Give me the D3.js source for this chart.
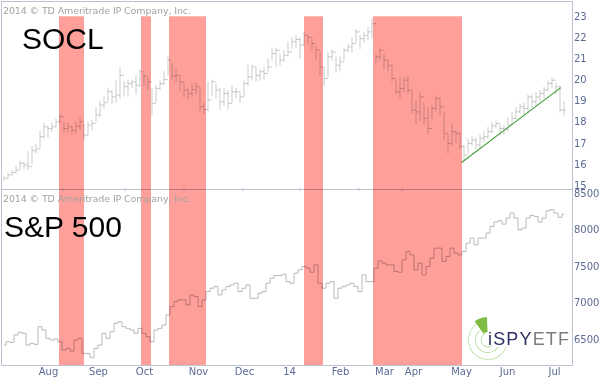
<!DOCTYPE html>
<html>
<head>
<meta charset="utf-8">
<script src="https://cdn.jsdelivr.net/npm/d3@7"></script>
<style>
  html, body { margin: 0; padding: 0; background: #fff; }
  svg { display: block; }
</style>
</head>
<body>
<div id="chart"></div>
<script>
// SOCL bars, one entry per plotted bar
const socClose = [
  15.32,15.48,15.59,15.71,16.03,15.95,15.87,16.63,16.71,17.29,
  17.76,17.68,17.76,18.0,18.24,17.68,17.76,17.6,17.79,18.0,
  17.37,17.84,17.92,18.32,18.79,18.9,19.42,19.18,19.26,20.2,
  19.66,19.81,19.89,19.73,20.37,20.16,19.89,18.87,19.58,19.81,
  20.0,20.92,20.16,20.2,19.89,19.5,19.34,19.53,19.66,18.71,
  18.58,19.03,19.89,19.5,18.95,19.34,18.87,19.42,19.42,19.18,
  19.81,20.13,20.6,20.2,20.37,20.29,20.6,21.23,21.39,20.92,
  21.15,21.31,21.79,21.9,21.63,
  22.1,22.0,21.71,21.4,20.6,20.05,21.08,21.31,20.68,20.84,
  21.39,21.55,21.71,22.26,21.94,22.1,22.26,22.65,21.08,21.39,
  20.92,20.68,20.05,19.42,19.58,19.97,19.5,18.55,18.47,19.18,
  18.16,17.68,18.63,19.1,18.71,17.45,16.97,17.53,17.45,16.82,
  16.42,16.97,17.13,16.9,17.21,17.29,17.53,17.8,17.92,17.68,
  17.64,17.84,18.16,18.47,18.71,18.63,19.18,18.95,19.18,19.34,
  19.5,19.81,19.97,19.66,18.55,18.55
];
const socHigh = [
  15.45,15.6,15.7,15.9,16.15,16.1,16.6,16.85,16.95,17.6,
  17.95,17.8,17.95,18.15,18.4,18.0,17.95,17.8,18.0,18.2,
  17.9,18.0,18.1,18.7,19.0,19.2,19.6,19.5,20.0,20.6,
  19.9,20.0,20.0,20.2,20.5,20.3,20.1,19.6,19.75,19.95,
  20.4,21.1,20.8,20.5,20.2,19.85,19.6,19.8,19.85,19.6,
  18.9,19.9,20.0,19.8,19.6,19.6,19.5,19.7,19.6,19.4,
  20.0,20.7,20.7,20.6,20.5,20.6,21.0,21.5,21.5,21.2,
  21.4,21.8,22.0,22.1,22.0,
  22.25,22.1,21.95,21.6,21.3,20.6,21.3,21.45,21.1,21.1,
  21.5,21.7,22.0,22.4,22.1,22.25,22.5,22.9,21.2,21.5,
  21.2,20.95,20.7,20.0,20.1,20.1,20.2,19.5,19.0,19.4,
  18.9,18.7,18.8,19.25,19.15,18.5,17.4,17.9,17.6,17.5,
  16.9,17.2,17.3,17.25,17.4,17.55,17.75,18.0,18.05,17.9,
  17.85,18.2,18.45,18.7,18.85,18.9,19.3,19.3,19.4,19.5,
  19.65,19.95,20.1,19.85,19.7,18.95
];
const socLow = [
  15.2,15.3,15.45,15.55,15.75,15.75,15.7,16.0,16.5,16.75,
  17.2,17.25,17.5,17.75,17.9,17.45,17.5,17.4,17.45,17.6,
  17.15,17.35,17.6,18.0,18.2,18.6,18.95,18.85,18.9,19.1,
  19.2,19.2,19.6,19.3,19.65,19.7,19.5,18.3,18.9,19.5,
  19.75,20.2,20.0,19.85,19.45,19.15,19.05,19.2,19.3,18.5,
  18.35,18.5,19.2,19.1,18.55,18.75,18.6,18.9,19.1,18.9,
  19.2,19.7,19.95,19.9,19.95,20.0,20.35,20.9,20.6,20.65,
  20.85,21.1,21.45,21.5,21.0,
  21.6,21.7,21.4,20.9,20.2,19.7,20.1,20.9,20.35,20.4,
  20.9,21.3,21.3,21.75,21.45,21.75,21.85,21.95,20.8,20.9,
  20.5,20.4,19.9,19.3,19.1,19.4,19.3,18.4,17.9,18.0,
  17.85,17.4,18.1,18.5,18.3,17.1,16.5,16.85,17.0,16.7,
  16.15,16.5,16.85,16.7,16.75,17.0,17.2,17.45,17.7,17.35,
  17.4,17.55,17.85,18.1,18.4,18.3,18.4,18.65,18.75,18.95,
  19.1,19.45,19.6,19.3,18.45,18.3
];

// S&P 500 closes, drawn as a staircase
const spClose = [
  6417,6463,6454,6555,6591,6578,6417,6440,6427,6669,
  6623,6509,6486,6500,6463,6349,6372,6335,6486,6509,
  6303,6303,6244,6372,6417,6578,6509,6600,6715,6738,
  6669,6646,6623,6578,6646,6578,6532,6463,6623,6646,
  6692,6829,6944,7012,7035,7035,6967,7104,7081,6944,
  7035,7150,7196,7218,7104,7173,7218,7241,7264,7150,
  7196,7241,7058,7058,7127,7150,7264,7333,7369,7369,
  7388,7287,7264,7401,7447,
  7493,7470,7415,7516,7264,7196,7264,7287,7058,7196,
  7218,7241,7264,7218,7150,7379,7287,7287,7470,7571,
  7539,7516,7516,7424,7415,7585,7699,7653,7447,7539,
  7379,7493,7607,7745,7745,7562,7630,7745,7676,7653,
  7699,7813,7882,7791,7882,7882,7951,8042,8102,8120,
  8074,8157,8225,8157,7997,8019,8157,8193,8180,8102,
  8157,8257,8271,8225,8166,8212
];

// shaded spans, in bar numbers
const bandStart = [13.75, 34.25, 41.25, 75, 92.25];
const bandEnd = [20, 36.75, 50.5, 79.75, 114.5];

// green trend line under SOCL, bar number and price
const trendBars = [114.4, 139.2];
const trendValues = [16.07, 19.62];

const monthLabels = ["Aug", "Sep", "Oct", "Nov", "Dec", "14", "Feb", "Mar", "Apr", "May", "Jun", "Jul"];
const monthBars = [11, 23.5, 35, 48.5, 60, 71.25, 84, 95, 102.25, 114.25, 125.75, 137.5];
const monthTickBars = [14.75, 30.25, 45, 59.75, 74, 88.75, 99.5];

const socTicks = [15, 16, 17, 18, 19, 20, 21, 22, 23];
const spTicks = [6500, 7000, 7500, 8000, 8500];

const width = 600;
const height = 379;
const right = 572;
const divider = 189;
const bottom = 365;

const svg = d3.select("#chart").append("svg")
  .attr("width", width)
  .attr("height", height);

const x = d3.scaleLinear().domain([0, socClose.length - 1]).range([4, 564]);
const ySoc = d3.scaleLinear().domain([15, 23]).range([185, 16.3]);
const ySp = d3.scaleLinear().domain([6500, 8500]).range([339, 193]);

// --- frame ---
const frameColor = "#bcc1d0";
const frame = svg.append("g").attr("stroke", frameColor).attr("stroke-width", 1);
[[1.5, 1.5, right + 0.5, 1.5], [1.5, divider + 0.5, right + 0.5, divider + 0.5],
 [1.5, bottom + 0.5, right + 0.5, bottom + 0.5], [1.5, 1.5, 1.5, bottom + 0.5],
 [right + 0.5, 1.5, right + 0.5, bottom + 0.5]].forEach(d => {
  frame.append("line").attr("x1", d[0]).attr("y1", d[1]).attr("x2", d[2]).attr("y2", d[3]);
});

// little month ticks on the panel edges
frame.selectAll(".mtick")
  .data(monthTickBars)
  .join("line")
  .attr("class", "mtick")
  .attr("x1", d => x(d))
  .attr("x2", d => x(d))
  .attr("y1", divider - 1)
  .attr("y2", divider + 2);

// --- SOCL bars: stem plus open and close ticks ---
const barColor = "#a8a8a8";
const socBars = svg.append("g").attr("stroke", barColor).attr("stroke-width", 0.6);
socBars.selectAll(".stem")
  .data(socClose)
  .join("line")
  .attr("class", "stem")
  .attr("x1", (d, i) => x(i))
  .attr("x2", (d, i) => x(i))
  .attr("y1", (d, i) => ySoc(socHigh[i]))
  .attr("y2", (d, i) => ySoc(socLow[i]));
socBars.selectAll(".closeTick")
  .data(socClose)
  .join("line")
  .attr("class", "closeTick")
  .attr("x1", (d, i) => x(i))
  .attr("x2", (d, i) => x(i) + 2)
  .attr("y1", d => ySoc(d))
  .attr("y2", d => ySoc(d));
socBars.selectAll(".openTick")
  .data(socClose.slice(1))
  .join("line")
  .attr("class", "openTick")
  .attr("x1", (d, i) => x(i + 1) - 2)
  .attr("x2", (d, i) => x(i + 1))
  .attr("y1", (d, i) => ySoc(socClose[i]))
  .attr("y2", (d, i) => ySoc(socClose[i]));

// --- S&P staircase ---
svg.append("path")
  .datum(spClose)
  .attr("fill", "none")
  .attr("stroke", barColor)
  .attr("stroke-width", 0.8)
  .attr("d", d3.line().x((d, i) => x(i)).y(d => ySp(d)).curve(d3.curveStep));

// --- shaded spans, multiplied so the bars show through ---
svg.append("g")
  .selectAll("rect")
  .data(bandStart)
  .join("rect")
  .attr("x", d => x(d))
  .attr("width", (d, i) => x(bandEnd[i]) - x(d))
  .attr("y", ySoc(23))
  .attr("height", bottom - ySoc(23))
  .attr("fill", "#ff9f9a")
  .style("mix-blend-mode", "multiply");

// --- trend line ---
svg.append("path")
  .datum(trendBars)
  .attr("fill", "none")
  .attr("stroke", "#3f9b35")
  .attr("stroke-width", 1.1)
  .attr("d", d3.line().x(d => x(d)).y((d, i) => ySoc(trendValues[i])));

// --- axes ---
const axisFont = "DejaVu Sans";
const axisColor = "#5c6a94";

function styleAxis(g) {
  g.select(".domain").remove();
  g.selectAll("line").remove();
  g.selectAll("text")
    .attr("font-family", axisFont)
    .attr("font-size", "10px")
    .attr("fill", axisColor);
}

svg.append("g")
  .attr("transform", `translate(${right},0)`)
  .call(d3.axisRight(ySoc).tickValues(socTicks).tickSize(0).tickPadding(2).tickFormat(d3.format("d")))
  .call(styleAxis);

svg.append("g")
  .attr("transform", `translate(${right},0)`)
  .call(d3.axisRight(ySp).tickValues(spTicks).tickSize(0).tickPadding(2).tickFormat(d3.format("d")))
  .call(styleAxis);

svg.append("g")
  .attr("transform", `translate(0,${bottom})`)
  .call(d3.axisBottom(x).tickValues(monthBars).tickSize(0).tickPadding(3).tickFormat((d, i) => monthLabels[i]))
  .call(styleAxis);

// --- copyright lines ---
[14, 202].forEach(y => {
  svg.append("text")
    .attr("x", 3)
    .attr("y", y)
    .attr("font-family", axisFont)
    .attr("font-size", "9.5px")
    .attr("fill", "#a3a3a3")
    .attr("textLength", 188)
    .text("2014 © TD Ameritrade IP Company, Inc.");
});

// --- panel names ---
svg.append("text")
  .attr("x", 22)
  .attr("y", 49)
  .attr("font-family", "Liberation Sans")
  .attr("font-size", "30px")
  .attr("fill", "#000")
  .text("SOCL");

svg.append("text")
  .attr("x", 4)
  .attr("y", 237)
  .attr("font-family", "Liberation Sans")
  .attr("font-size", "30px")
  .attr("fill", "#000")
  .text("S&P 500");

// --- logo ---
const logo = svg.append("g").attr("transform", "translate(488,340)");
const ringArc = d3.arc();
[[19.5, 0.62, 1.98], [12.5, 0.7, 1.95], [7, 0.8, 1.9]].forEach(d => {
  logo.append("path")
    .attr("d", ringArc({
      innerRadius: d[0] - 0.4,
      outerRadius: d[0] + 0.4,
      startAngle: Math.PI * d[1],
      endAngle: Math.PI * d[2]
    }))
    .attr("fill", "#b5dc9e");
});
logo.append("path")
  .attr("d", ringArc({ innerRadius: 8, outerRadius: 23, startAngle: -0.62, endAngle: -0.05 }))
  .attr("fill", "#7fbc45");

svg.append("text")
  .attr("x", 488)
  .attr("y", 345)
  .attr("font-family", "Liberation Sans")
  .attr("font-size", "18px")
  .attr("textLength", 81)
  .attr("fill", "#2d2f62")
  .text("iSPY")
  .append("tspan")
  .attr("fill", "#7c7d80")
  .text("ETF");
</script>
</body>
</html>
